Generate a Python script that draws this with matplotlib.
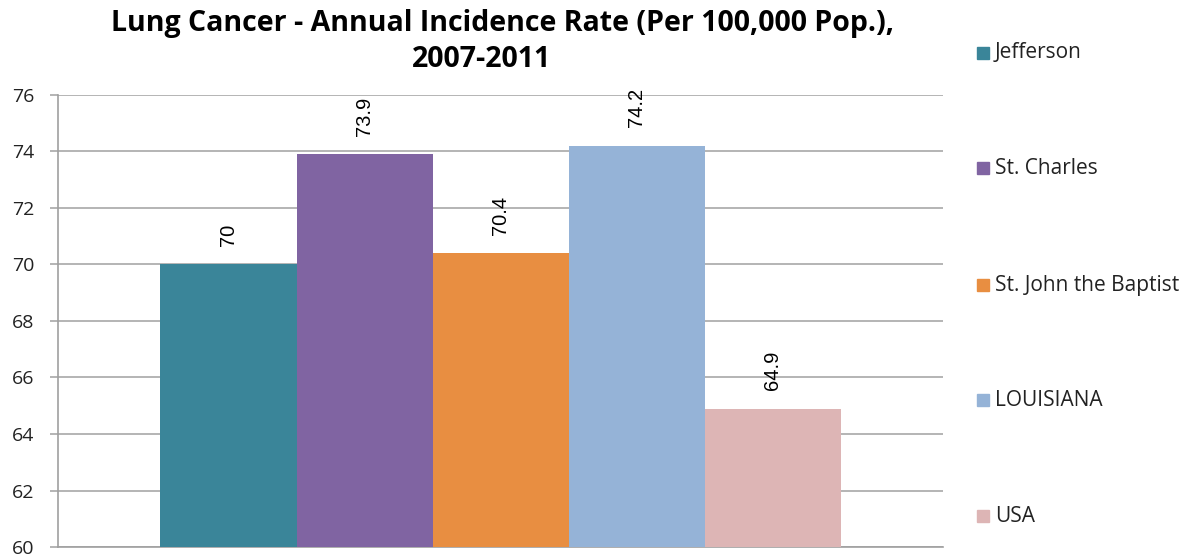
import matplotlib.pyplot as plt

# Lung cancer incidence per 100,000, 2007-2011
areas = ["Jefferson", "St. Charles", "St. John the Baptist", "LOUISIANA", "USA"]
rates = [70, 73.9, 70.4, 74.2, 64.9]
labels = ["70", "73.9", "70.4", "74.2", "64.9"]
colors = ["#3a8599", "#8064a2", "#e88e41", "#95b3d7", "#ddb5b5"]
yticks = [60, 62, 64, 66, 68, 70, 72, 74, 76]

fig = plt.figure(figsize=(11.87, 5.6), dpi=100)
ax = fig.add_axes([0.0489, 0.0232, 0.7456, 0.8072])

width = 0.1537
n = len(areas)
for i, (name, val, lab, c) in enumerate(zip(areas, rates, labels, colors)):
    x = (i - (n - 1) / 2) * width
    ax.bar(x, val - 60, bottom=60, width=width, color=c, zorder=3)
    ax.text(x, val + 0.65, lab, rotation=90, ha="center", va="bottom",
            fontsize=14.5, family="Liberation Sans", color="#000000", zorder=4)

ax.set_xlim(-0.5, 0.5)
ax.set_ylim(60, 76)
ax.set_yticks(yticks)
ax.set_yticklabels([str(t) for t in yticks], family="Open Sans", fontsize=14,
                   color="#222222")
ax.set_xticks([])
ax.yaxis.grid(True, color="#a0a0a0", linewidth=1.1, zorder=0)
for s in ["top", "right"]:
    ax.spines[s].set_visible(False)
ax.spines["left"].set_color("#a0a0a0")
ax.spines["bottom"].set_color("#a0a0a0")
ax.spines["left"].set_linewidth(1.2)
ax.spines["bottom"].set_linewidth(1.2)
ax.tick_params(axis="y", length=5.8, color="#a0a0a0", width=1.1, pad=11)

fig.text(503 / 1187, 1 - 31 / 560,
         "Lung Cancer - Annual Incidence Rate (Per 100,000 Pop.),",
         ha="center", va="baseline", fontsize=20.5, fontweight="bold",
         family="Open Sans")
fig.text(482 / 1187, 1 - 67 / 560, "2007-2011", ha="center", va="baseline",
         fontsize=20.5, fontweight="bold", family="Open Sans")

# legend entries stacked down the right side
ys = [53, 168, 285, 400, 516]
for name, c, y in zip(areas, colors, ys):
    fy = 1 - y / 560
    fig.patches.append(plt.Rectangle((977 / 1187, fy - 6 / 560), 12 / 1187, 12 / 560,
                                     transform=fig.transFigure, color=c))
    fig.text(995 / 1187, fy, name, va="center", ha="left", fontsize=15,
             family="Open Sans", color="#222222")

fig.savefig("out.png", dpi=100)
